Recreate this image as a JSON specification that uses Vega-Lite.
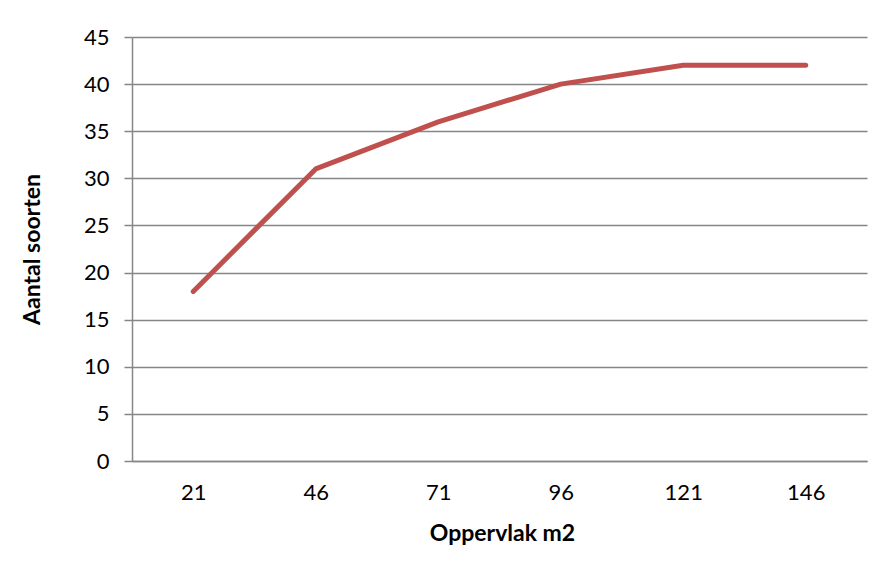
{
  "$schema": "https://vega.github.io/schema/vega-lite/v6.json",
  "autosize": "none",
  "width": 735,
  "height": 424,
  "padding": {"left": 132, "top": 37, "right": 21, "bottom": 120},
  "background": "white",
  "config": {
    "font": "Lato",
    "view": {"stroke": null}
  },
  "data": {
    "values": [
      {"oppervlak": "21", "soorten": 18},
      {"oppervlak": "46", "soorten": 31},
      {"oppervlak": "71", "soorten": 36},
      {"oppervlak": "96", "soorten": 40},
      {"oppervlak": "121", "soorten": 42},
      {"oppervlak": "146", "soorten": 42}
    ]
  },
  "mark": {"type": "line", "color": "#C0504D", "strokeWidth": 5, "strokeCap": "round", "strokeJoin": "round"},
  "encoding": {
    "x": {
      "field": "oppervlak",
      "type": "ordinal",
      "sort": null,
      "scale": {"type": "point", "padding": 0.5},
      "axis": {
        "title": "Oppervlak m2",
        "labelAngle": 0,
        "labelFontSize": 22,
        "labelColor": "#000000",
        "labelPadding": 21,
        "ticks": false,
        "grid": false,
        "domainColor": "#868686",
        "domainWidth": 1.5,
        "titleFontSize": 23,
        "titleFontWeight": "bold",
        "titleColor": "#000000",
        "titleX": 370,
        "titleY": 72,
        "titleBaseline": "middle",
        "titleAlign": "center"
      }
    },
    "y": {
      "field": "soorten",
      "type": "quantitative",
      "scale": {"domain": [0, 45], "nice": false},
      "axis": {
        "title": "Aantal soorten",
        "values": [0, 5, 10, 15, 20, 25, 30, 35, 40, 45],
        "labelFontSize": 22,
        "labelColor": "#000000",
        "labelPadding": 15,
        "tickSize": 8,
        "tickColor": "#868686",
        "tickWidth": 1.5,
        "domainColor": "#868686",
        "domainWidth": 1.5,
        "grid": true,
        "gridColor": "#868686",
        "gridWidth": 1.5,
        "titleFontSize": 23,
        "titleFontWeight": "bold",
        "titleColor": "#000000",
        "titleAngle": -90,
        "titleX": -100,
        "titleY": 212,
        "titleBaseline": "middle",
        "titleAlign": "center"
      }
    }
  }
}
